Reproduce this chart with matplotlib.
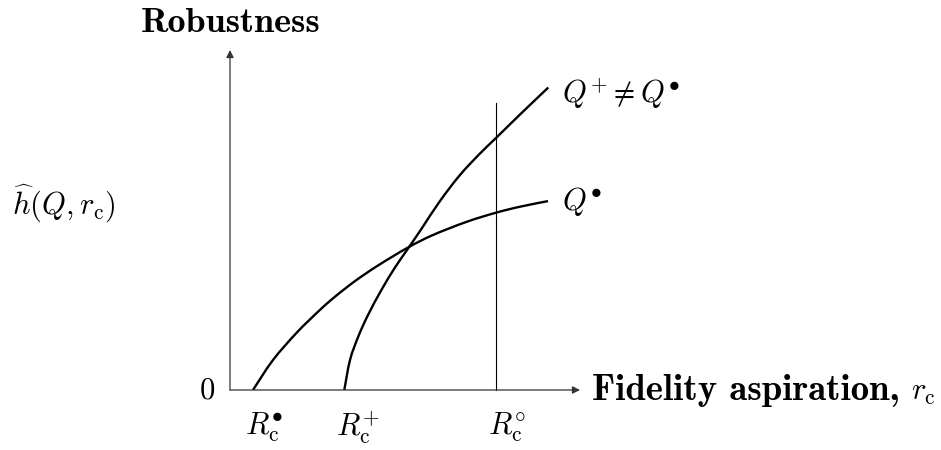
import matplotlib
matplotlib.use("Agg")
import matplotlib.pyplot as plt
from matplotlib.path import Path
from matplotlib.patches import PathPatch

plt.rcParams["mathtext.fontset"] = "cm"
plt.rcParams["font.family"] = "serif"
plt.rcParams["font.serif"] = ["DejaVu Serif"]

# Robustness curves h(Q, r_c) against fidelity aspiration r_c
q_dot_r = [0.657, 1.229, 1.914, 2.571, 3.000, 3.571, 4.229, 5.086, 5.800,
           6.771, 7.600, 8.286, 9.086]
q_dot_h = [0.000, 0.882, 1.694, 2.356, 2.744, 3.203, 3.662, 4.191, 4.559,
           4.950, 5.215, 5.391, 5.556]

q_plus_r = [3.266, 3.429, 3.666, 3.951, 4.334, 4.714, 5.094, 5.477, 6.000,
            6.571, 7.143, 7.600, 8.286, 9.094]
q_plus_h = [0.000, 0.882, 1.574, 2.221, 2.956, 3.603, 4.171, 4.750, 5.559,
            6.324, 6.956, 7.412, 8.103, 8.897]

# Critical aspirations marked on the r_c axis
r_crit = [0.657, 3.266, 7.600]
r_crit_labels = [r"$R_{\mathrm{c}}^{\bullet}$", r"$R_{\mathrm{c}}^{+}$",
                 r"$R_{\mathrm{c}}^{\circ}$"]
r_circ_top = 8.44

curve_labels = [r"$Q^{+} \neq Q^{\bullet}$", r"$Q^{\bullet}$"]


def smooth_path(xs, ys):
    """Catmull-Rom curve through the points, as cubic Bezier segments."""
    pts = list(zip(xs, ys))
    n = len(pts)
    verts = [pts[0]]
    codes = [Path.MOVETO]
    for i in range(n - 1):
        p0 = pts[i - 1] if i > 0 else pts[i]
        p1 = pts[i]
        p2 = pts[i + 1]
        p3 = pts[i + 2] if i + 2 < n else pts[i + 1]
        c1 = (p1[0] + (p2[0] - p0[0]) / 6.0, p1[1] + (p2[1] - p0[1]) / 6.0)
        c2 = (p2[0] - (p3[0] - p1[0]) / 6.0, p2[1] - (p3[1] - p1[1]) / 6.0)
        verts += [c1, c2, p2]
        codes += [Path.CURVE4] * 3
    return Path(verts, codes)


fig = plt.figure(figsize=(9.41, 4.5), dpi=100)
ax = fig.add_axes([0, 0, 1, 1])
ax.set_xlim(-6.571, 20.314)
ax.set_ylim(-1.765, 11.471)
ax.axis("off")

fs_math = 22
fs_bold = 26
bold_font = ["cmb10", "DejaVu Serif"]

# axes with arrow heads
arrow = dict(arrowstyle="-|>", lw=0.9, color="0.2", mutation_scale=11,
             shrinkA=0, shrinkB=0)
ax.annotate("", xy=(10.0, 0), xytext=(0, 0), arrowprops=arrow)
ax.annotate("", xy=(0, 10.0), xytext=(0, 0), arrowprops=arrow)

# vertical marker at R_c^circ
ax.plot([r_crit[2], r_crit[2]], [0, r_circ_top], color="black", lw=0.8)

for xs, ys in [(q_dot_r, q_dot_h), (q_plus_r, q_plus_h)]:
    ax.add_patch(PathPatch(smooth_path(xs, ys), facecolor="none",
                           edgecolor="black", lw=1.7, capstyle="butt"))

# curve labels
ax.annotate(curve_labels[0], xy=(q_plus_r[-1], q_plus_h[-1]), xytext=(10, -4),
            textcoords="offset points", ha="left", va="center",
            fontsize=fs_math)
ax.annotate(curve_labels[1], xy=(q_dot_r[-1], q_dot_h[-1]), xytext=(10, 0),
            textcoords="offset points", ha="left", va="center",
            fontsize=fs_math)

# labels under the r_c axis
for r, lab in zip(r_crit, r_crit_labels):
    ax.annotate(lab, xy=(r, 0), xytext=(-6, -27), textcoords="offset points",
                ha="left", va="center", fontsize=fs_math)

ax.text(-0.65, 0, r"$0$", ha="center", va="center", fontsize=fs_math)

# axis titles
ax.text(0.03, 10.54, "Robustness", ha="center", va="baseline",
        fontsize=fs_bold, family=bold_font)
ax.text(19.14, -0.294, "Fidelity aspiration,", ha="right", va="baseline",
        fontsize=26.5, family=bold_font)
ax.text(20.17, -0.294, r"$r_{\mathrm{c}}$", ha="right", va="baseline",
        fontsize=fs_math)
ax.text(-6.23, 5.5, r"$\widehat{h}(Q, r_{\mathrm{c}})$", ha="left",
        va="center", fontsize=fs_math)

fig.savefig("out.png", dpi=100)
